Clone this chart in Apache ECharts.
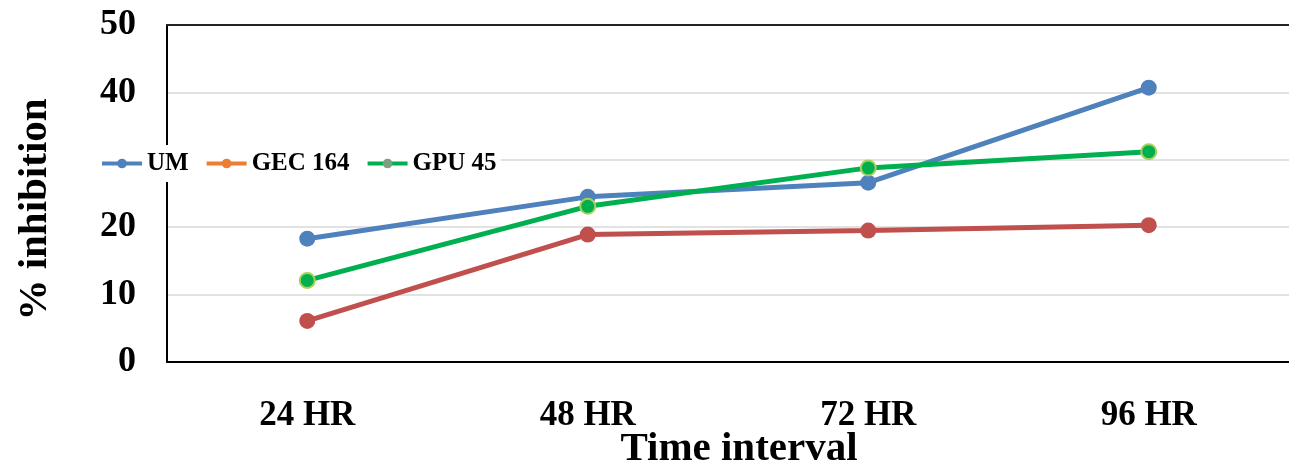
<!DOCTYPE html>
<html>
<head>
<meta charset="utf-8">
<script src="https://cdn.jsdelivr.net/npm/echarts@6/dist/echarts.min.js"></script>
<style>html,body{margin:0;padding:0;background:#fff;}#c{width:1289px;height:467px;}</style>
</head>
<body>
<div id="c"></div>
<script>
var categories = ['24 HR', '48 HR', '72 HR', '96 HR'];
var umValues = [18.3, 24.5, 26.6, 40.7];
var gecValues = [6.1, 18.9, 19.5, 20.3];
var gpuValues = [12.1, 23.1, 28.8, 31.2];
var yTicks = [0, 10, 20, 30, 40, 50];

var serif = '"Liberation Serif", "Times New Roman", serif';
var chart = echarts.init(document.getElementById('c'));
chart.setOption({
  animation: false,
  backgroundColor: '#fff',
  grid: { left: 167, right: 0, top: 25, bottom: 105, containLabel: false, outerBoundsMode: 'none' },
  legend: {
    left: 96, top: 145,
    backgroundColor: '#fff',
    padding: [6, 4, 6, 4],
    itemWidth: 40, itemHeight: 12, itemGap: 16,
    textStyle: { fontFamily: serif, fontWeight: 'bold', fontSize: 25, color: '#000' },
    data: [
      { name: 'UM', lineStyle: { width: 4 } },
      { name: 'GEC 164', itemStyle: { color: '#ED7D31', borderWidth: 0 }, lineStyle: { color: '#ED7D31', width: 4 } },
      { name: 'GPU 45', itemStyle: { color: '#7FA07F', borderWidth: 0 }, lineStyle: { color: '#00B050', width: 4 } }
    ]
  },
  xAxis: [{
    type: 'category',
    data: categories,
    boundaryGap: true,
    axisLine: { show: true, lineStyle: { color: '#000', width: 2 } },
    axisTick: { show: false },
    axisLabel: { margin: 36, fontFamily: serif, fontWeight: 'bold', fontSize: 35, color: '#000' },
    name: 'Time interval',
    nameLocation: 'middle',
    nameGap: 67,
    nameMoveOverlap: false,
    nameTextStyle: { fontFamily: serif, fontWeight: 'bold', fontSize: 41, color: '#000', padding: [0, 0, 0, 22] }
  }, {
    type: 'category',
    data: categories,
    position: 'top',
    axisLine: { show: true, lineStyle: { color: '#222', width: 2 } },
    axisTick: { show: false },
    axisLabel: { show: false }
  }],
  yAxis: {
    type: 'value',
    min: yTicks[0], max: yTicks[yTicks.length - 1], interval: 10,
    axisLine: { show: true, lineStyle: { color: '#000', width: 2 } },
    axisTick: { show: false },
    splitLine: { show: true, lineStyle: { color: '#D9D9D9', width: 1.5 } },
    axisLabel: { margin: 31, fontFamily: serif, fontWeight: 'bold', fontSize: 36, color: '#000' },
    name: '% inhibition',
    nameLocation: 'middle',
    nameGap: 111,
    nameRotate: 90,
    nameTextStyle: { fontFamily: serif, fontWeight: 'bold', fontSize: 41, color: '#000', padding: [0, 32, 0, 0] }
  },
  series: [
    {
      name: 'UM', type: 'line', data: umValues,
      symbol: 'circle', symbolSize: 16,
      itemStyle: { color: '#4F81BD' },
      lineStyle: { color: '#4F81BD', width: 5 }, z: 3
    },
    {
      name: 'GEC 164', type: 'line', data: gecValues,
      symbol: 'circle', symbolSize: 16,
      itemStyle: { color: '#C0504D' },
      lineStyle: { color: '#C0504D', width: 5 }, z: 2
    },
    {
      name: 'GPU 45', type: 'line', data: gpuValues,
      symbol: 'circle', symbolSize: 15,
      itemStyle: { color: '#00B050', borderColor: '#A9D05A', borderWidth: 2 },
      lineStyle: { color: '#00B050', width: 5 }, z: 4
    }
  ]
});
</script>
</body>
</html>
